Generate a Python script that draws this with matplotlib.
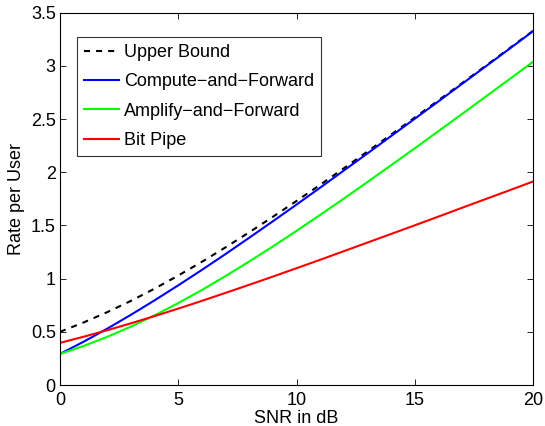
import matplotlib
matplotlib.use("Agg")
import matplotlib.pyplot as plt

plt.rcParams['font.family'] = ['Liberation Sans', 'DejaVu Sans']

snr_db = list(range(0, 21))
upper_bound = [0.500, 0.588, 0.685, 0.791, 0.906, 1.029, 1.158, 1.294, 1.435, 1.581, 1.730,
               1.882, 2.037, 2.195, 2.354, 2.514, 2.676, 2.838, 3.001, 3.165, 3.329]
compute_fwd = [0.292, 0.407, 0.530, 0.660, 0.796, 0.937, 1.082, 1.231, 1.384, 1.539, 1.696,
               1.855, 2.016, 2.177, 2.340, 2.503, 2.666, 2.831, 2.995, 3.160, 3.326]
amplify_fwd = [0.292, 0.367, 0.453, 0.549, 0.655, 0.770, 0.893, 1.024, 1.161, 1.302, 1.449,
               1.599, 1.752, 1.908, 2.066, 2.225, 2.386, 2.548, 2.711, 2.874, 3.038]
bit_pipe = [0.396, 0.454, 0.515, 0.580, 0.648, 0.718, 0.791, 0.866, 0.942, 1.019, 1.098,
            1.177, 1.258, 1.339, 1.420, 1.501, 1.583, 1.666, 1.748, 1.830, 1.913]

xticks = [0, 5, 10, 15, 20]
yticks = [0, 0.5, 1, 1.5, 2, 2.5, 3, 3.5]
ytick_labels = ['0', '0.5', '1', '1.5', '2', '2.5', '3', '3.5']

FS = 13

fig = plt.figure(figsize=(5.45, 4.26), dpi=100)
ax = fig.add_axes([60/545, 1-385/426, (533-60)/545, (385-12.7)/426])

ax.plot(snr_db, upper_bound, '--', color='black', lw=1.5, dashes=(2.9, 2.9), label='Upper Bound')
ax.plot(snr_db, compute_fwd, '-', color='#0000ff', lw=1.5, label='Compute\u2212and\u2212Forward')
ax.plot(snr_db, amplify_fwd, '-', color='#00ff00', lw=1.5, label='Amplify\u2212and\u2212Forward')
ax.plot(snr_db, bit_pipe, '-', color='#ff0000', lw=1.5, label='Bit Pipe')

ax.set_xlim(0, 20)
ax.set_ylim(0, 3.5)
ax.set_xticks(xticks)
ax.set_xticklabels([str(t) for t in xticks])
ax.set_yticks(yticks)
ax.set_yticklabels(ytick_labels)
ax.tick_params(direction='in', top=True, right=True, labelsize=FS, length=4, width=0.6, pad=3)
ax.tick_params(axis='x', pad=5)
for s in ax.spines.values():
    s.set_linewidth(0.8)

ax.set_xlabel('SNR in dB', fontsize=FS, labelpad=1)
ax.set_ylabel('Rate per User', fontsize=FS, labelpad=4)

leg = ax.legend(loc='upper left', bbox_to_anchor=(0.036, 0.934), fontsize=FS, frameon=True,
                fancybox=False, edgecolor='black', handlelength=1.94, handletextpad=0.28,
                labelspacing=0.68, borderpad=0.38, borderaxespad=0)
leg.get_frame().set_linewidth(0.8)

fig.savefig('out.png', dpi=100)
